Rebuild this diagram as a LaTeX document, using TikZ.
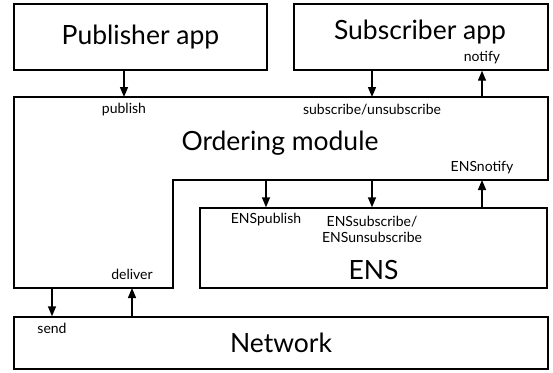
\documentclass[tikz,border=0pt]{standalone}
\usepackage{fontspec}
\setmainfont{Lato}
\usetikzlibrary{arrows.meta}

\begin{document}
\begin{tikzpicture}[x = 1pt, y = -1pt, > = {Triangle[width = 8pt, length = 10pt]}, line width = 1.4pt,
	box/.style = {draw, minimum width = #1, inner sep = 0pt},
	big/.style = {font = \fontsize{26.5}{30}\selectfont},
	small/.style = {font = \fontsize{14}{16}\selectfont, inner sep = 1pt}]

	\useasboundingbox (0, 0) rectangle (553, 372);

	% Applications
	
	\node [box = 253pt, minimum height = 66pt] (pub) at (140.5, 37) {};
	\node [box = 254pt, minimum height = 66pt] (sub) at (421, 37) {};
	\node [big] at (140.5, 37) {Publisher app};
	\node [big] at (420, 32) {Subscriber app};
	
	% Ordering module
	
	\coordinate (om-nw) at (14, 97);
	\coordinate (om-ne) at (548, 97);
	\coordinate (om-e) at (548, 180);
	\coordinate (om-step) at (173, 180);
	\coordinate (om-in) at (173, 288);
	\coordinate (om-sw) at (14, 288);
	
	\draw (om-nw) -- (om-ne) -- (om-e) -- (om-step) -- (om-in) -- (om-sw) -- cycle;
	\node [big] at (280, 143) {Ordering module};
	
	% ENS + network
	
	\node [box = 347pt, minimum height = 80pt] (ens) at (373.5, 248) {};
	\node [big] at (373.5, 270) {ENS};
	
	\node [box = 534pt, minimum height = 52pt] (net) at (281, 343) {};
	\node [big] at (281, 343) {Network};
	
	% Labels
	
	\node [small] (publish) at (124, 110) {publish};
	\node [small] (subscribe) at (372, 110) {subscribe/unsubscribe};
	\node [small] (notify) at (482, 58) {notify};
	\node [small] (ensnotify) at (482, 168) {ENSnotify};
	\node [small] (enspublish) at (266, 220) {ENSpublish};
	\node [small, align = center] (enssubscribe) at (372, 229) {ENSsubscribe/\\ENSunsubscribe};
	\node [small] (deliver) at (132, 274) {deliver};
	\node [small] (send) at (52, 328) {send};
	
	% Calls between layers
	
	\begin{scope}[->]
	
		\draw (publish |- pub.south) -- (publish |- om-nw);
		\draw (subscribe |- sub.south) -- (subscribe |- om-nw);
		\draw (notify |- om-nw) -- (notify |- sub.south);
		
		\draw (enspublish |- om-step) -- (enspublish |- ens.north);
		\draw (enssubscribe |- om-step) -- (enssubscribe |- ens.north);
		\draw (ensnotify |- ens.north) -- (ensnotify |- om-e);
		
		\draw (send |- om-sw) -- (send |- net.north);
		\draw (deliver |- net.north) -- (deliver |- om-sw);
	
	\end{scope}

\end{tikzpicture}
\end{document}
